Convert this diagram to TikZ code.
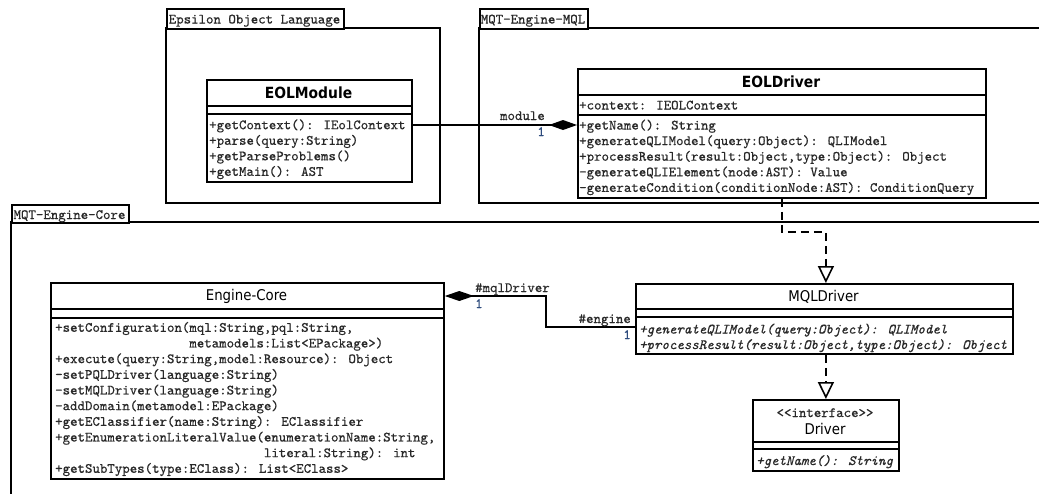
\documentclass[tikz,border=0pt]{standalone}
\usepackage{fontspec}
\usetikzlibrary{arrows.meta}
\newfontfamily\hdrfont[FakeStretch=0.9]{DejaVu Sans}
\newfontfamily\umltt[Extension=.otf, UprightFont=lmmono10-regular,
  ItalicFont=lmmono10-italic, FakeBold=0.5]{lmmono10-regular}
\newcommand\umlmono{\umltt\fontsize{14.2}{16}\selectfont}
\definecolor{txt}{RGB}{40,40,40}
\definecolor{multcol}{RGB}{45,75,125}
\tikzset{
  pkgframe/.style={draw, line width=1.8pt},
  tabbox/.style={draw, line width=1.8pt, fill=white, anchor=north west, inner sep=0pt},
  cls/.style={draw, line width=1.8pt, fill=white, anchor=north west, inner sep=0pt},
  sepline/.style={line width=1.8pt},
  mono/.style={font=\umlmono, text=txt, inner sep=0pt, anchor=base west},
  monoit/.style={mono, font=\umlmono\itshape},
  hbold/.style={font={\hdrfont\bfseries\fontsize{15.4}{18}\selectfont}, inner sep=0pt, anchor=base},
  hreg/.style={font={\hdrfont\fontsize{14.8}{18}\selectfont}, inner sep=0pt, anchor=base},
  conn/.style={line width=1.8pt},
  compose/.style={conn, -{Diamond[length=28pt, width=10pt]}},
  composeback/.style={conn, {Diamond[length=29pt, width=10pt]}-},
  realize/.style={line width=1.8pt, dash pattern=on 8pt off 5pt,
    -{Triangle[open, length=17pt, width=16pt, line width=1.6pt]}},
  mult/.style={mono, text=multcol},
}
\begin{document}
\begin{tikzpicture}[x=1pt, y=-1pt]
\useasboundingbox (0,0) rectangle (1039,493);
\clip (0,0) rectangle (1039,493);
\fill[white] (0,0) rectangle (1039,493);

% ---- packages ----
\draw[pkgframe] (166,28) rectangle (440,203);
\node[tabbox, minimum width=177pt, minimum height=20pt] (tabeol) at (166,8) {};
\node[mono, anchor=base] (tabeoltxt) at (254.5,23.5) {Epsilon Object Language};

\draw[pkgframe] (479,28) rectangle (1060,203);
\node[tabbox, minimum width=108pt, minimum height=20pt] (tabmql) at (479,8) {};
\node[mono, anchor=base] (tabmqltxt) at (533,23.5) {MQT-Engine-MQL};

\draw[pkgframe] (11,222) rectangle (1060,520);
\node[tabbox, minimum width=117pt, minimum height=18pt] (tabcore) at (11,204) {};
\node[mono, anchor=base] (tabcoretxt) at (69.5,219) {MQT-Engine-Core};

% ---- class EOLModule ----
\node[cls, minimum width=205pt, minimum height=102pt] (eolmodule) at (206,79) {};
\draw[sepline] (eolmodule.west |- 0,106) -- (eolmodule.east |- 0,106);
\draw[sepline] (eolmodule.west |- 0,114) -- (eolmodule.east |- 0,114);
\node[hbold] (eolmoduleT) at (308.5,98.5) {EOLModule};
\foreach \t [count=\i from 0] in {{+getContext(): IEolContext},{+parse(query:String)},
    {+getParseProblems()},{+getMain(): AST}}
  \node[mono] (eolmodule-m\i) at (209,{129.2+\i*15.55}) {\t};

% ---- class EOLDriver ----
\node[cls, minimum width=408pt, minimum height=129pt] (eoldriver) at (577,68) {};
\draw[sepline] (eoldriver.west |- 0,95) -- (eoldriver.east |- 0,95);
\draw[sepline] (eoldriver.west |- 0,115) -- (eoldriver.east |- 0,115);
\node[hbold] (eoldriverT) at (781,87) {EOLDriver};
\node[mono] (eoldriver-a0) at (579,109.5) {+context: IEOLContext};
\foreach \t [count=\i from 0] in {{+getName(): String},
    {+generateQLIModel(query:Object): QLIModel},
    {+processResult(result:Object,type:Object): Object},
    {-generateQLIElement(node:AST): Value},
    {-generateCondition(conditionNode:AST): ConditionQuery}}
  \node[mono] (eoldriver-m\i) at (579,{129.5+\i*15.6}) {\t};

% ---- class Engine-Core ----
\node[cls, minimum width=393pt, minimum height=196pt] (ecore) at (50,282) {};
\draw[sepline] (ecore.west |- 0,309) -- (ecore.east |- 0,309);
\draw[sepline] (ecore.west |- 0,318) -- (ecore.east |- 0,318);
\node[hreg] (ecoreT) at (246.5,300.5) {Engine-Core};
\foreach \t [count=\i from 0] in {{+setConfiguration(mql:String,pql:String,},
    {\phantom{+setConfiguration(}metamodels:List<EPackage>)},
    {+execute(query:String,model:Resource): Object},
    {-setPQLDriver(language:String)},
    {-setMQLDriver(language:String)},
    {-addDomain(metamodel:EPackage)},
    {+getEClassifier(name:String): EClassifier},
    {+getEnumerationLiteralValue(enumerationName:String,},
    {\phantom{+getEnumerationLiteralValue(}literal:String): int},
    {+getSubTypes(type:EClass): List<EClass>}}
  \node[mono] (ecore-m\i) at (55,{331.8+\i*15.67}) {\t};

% ---- class MQLDriver ----
\node[cls, minimum width=377pt, minimum height=70pt] (mqldriver) at (635,283) {};
\draw[sepline] (mqldriver.west |- 0,309) -- (mqldriver.east |- 0,309);
\draw[sepline] (mqldriver.west |- 0,317) -- (mqldriver.east |- 0,317);
\node[hreg] (mqldriverT) at (823.5,301.5) {MQLDriver};
\node[monoit] (mqldriver-m0) at (639,333.5) {+generateQLIModel(query:Object): QLIModel};
\node[monoit] (mqldriver-m1) at (639,349) {+processResult(result:Object,type:Object): Object};

% ---- interface Driver ----
\node[cls, minimum width=146pt, minimum height=71pt] (driver) at (752,399) {};
\draw[sepline] (driver.west |- 0,442) -- (driver.east |- 0,442);
\draw[sepline] (driver.west |- 0,449) -- (driver.east |- 0,449);
\node[mono, anchor=base] (driverS) at (825,417) {<<interface>>};
\node[hreg] (driverT) at (825,434) {Driver};
\node[monoit] (driver-m0) at (756,465) {+getName(): String};

% ---- connectors ----
\draw[compose] (eolmodule.east |- 0,125) -- (eoldriver.west |- 0,125);
\node[mono, anchor=base east] (modlbl) at (545,120) {module};
\node[mult, anchor=base east] (modmult) at (545,136) {1};

\coordinate (coremid) at (546,311);
\draw[composeback] (ecore.east |- 0,296) -| (coremid) |- (mqldriver.west |- 0,327);
\node[mono] (mqllbl) at (475,292) {\#mqlDriver};
\node[mult] (mqlmult) at (475,308) {1};
\node[mono, anchor=base east] (englbl) at (631,323) {\#engine};
\node[mult, anchor=base east] (engmult) at (631,339) {1};

\draw[realize] (eoldriver.south) -- ++(0,33) -| (driver.north |- mqldriver.north);
\draw[realize] (driver.north |- mqldriver.south) -- (driver.north);
\end{tikzpicture}
\end{document}
